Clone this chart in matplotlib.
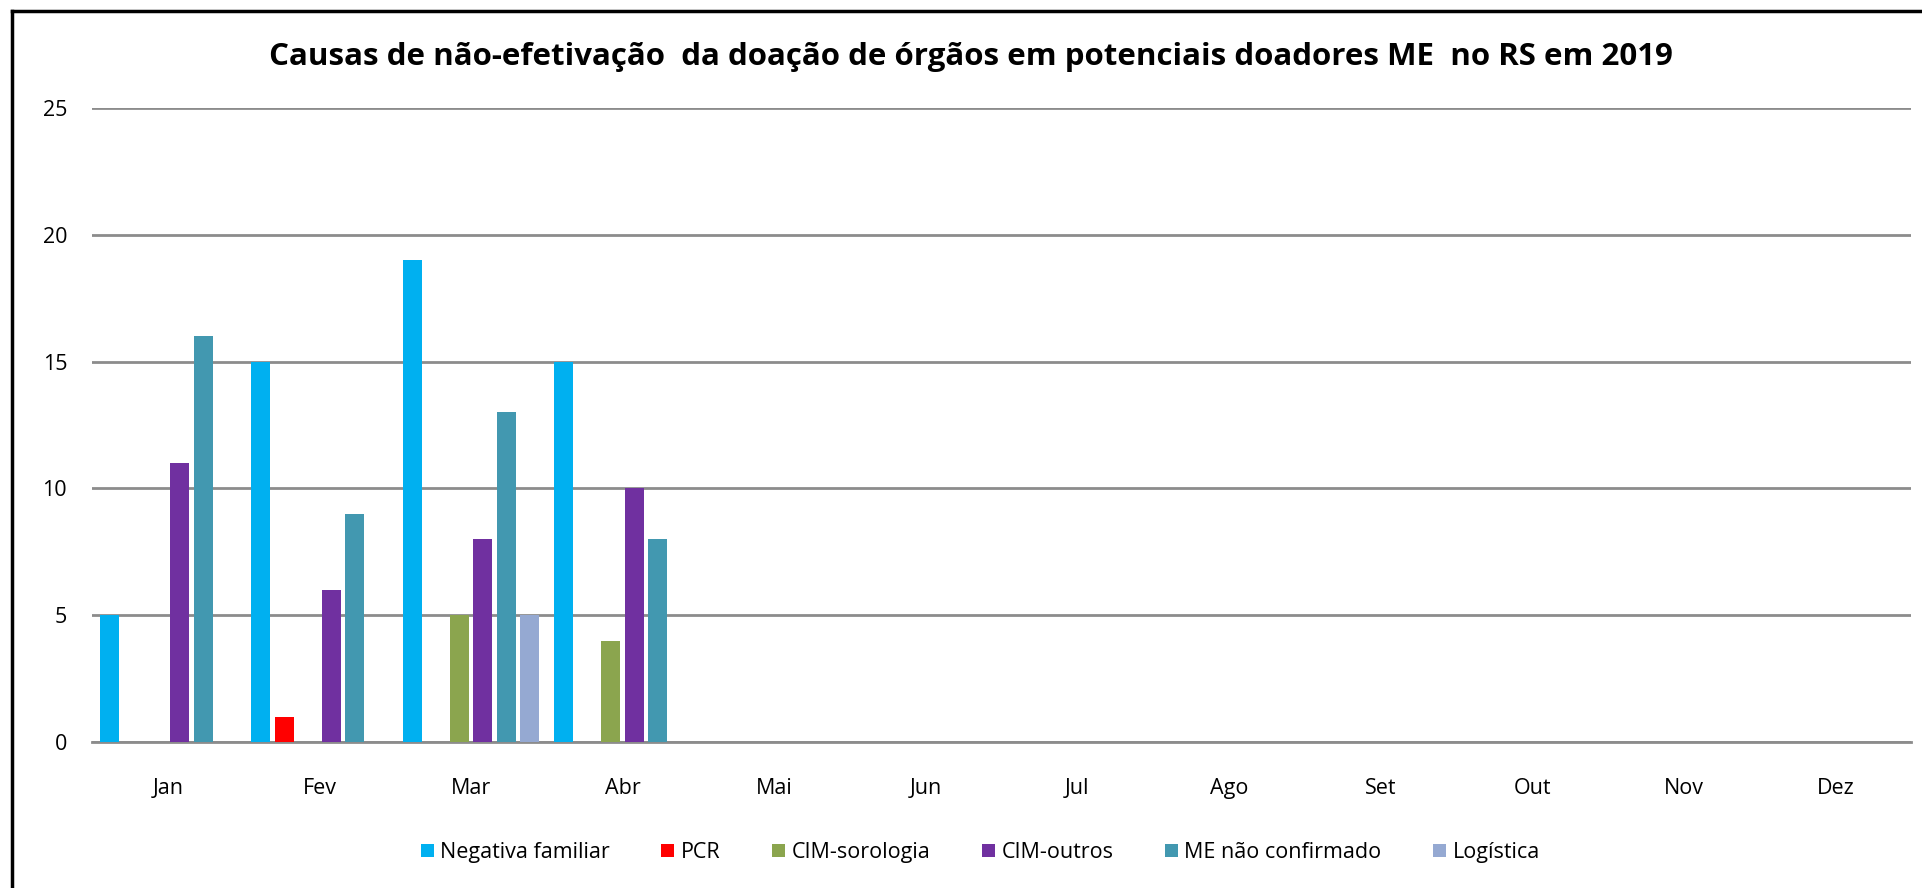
import matplotlib.pyplot as plt
import numpy as np

months = ["Jan", "Fev", "Mar", "Abr", "Mai", "Jun", "Jul", "Ago", "Set", "Out", "Nov", "Dez"]
series_names = ["Negativa familiar", "PCR", "CIM-sorologia", "CIM-outros", "ME não confirmado", "Logística"]
colors = ["#00B0F0", "#FF0000", "#8BA54E", "#7030A0", "#4298B0", "#95A9D2"]

negativa = [5, 15, 19, 15, 0, 0, 0, 0, 0, 0, 0, 0]
pcr = [0, 1, 0, 0, 0, 0, 0, 0, 0, 0, 0, 0]
cim_sorologia = [0, 0, 5, 4, 0, 0, 0, 0, 0, 0, 0, 0]
cim_outros = [11, 6, 8, 10, 0, 0, 0, 0, 0, 0, 0, 0]
me_nao_conf = [16, 9, 13, 8, 0, 0, 0, 0, 0, 0, 0, 0]
logistica = [0, 0, 5, 0, 0, 0, 0, 0, 0, 0, 0, 0]

data = [negativa, pcr, cim_sorologia, cim_outros, me_nao_conf, logistica]

plt.rcParams['font.family'] = ['Open Sans', 'DejaVu Sans']

fig = plt.figure(figsize=(19.22, 8.88), dpi=100)
ax = fig.add_axes([0.0479, 0.1644, 0.9465, 0.714])

x = np.arange(len(months))
pitch = 0.155
width = 0.125
for i, (vals, name, c) in enumerate(zip(data, series_names, colors)):
    offs = (i - 2.5) * pitch
    ax.bar(x + offs, vals, width=width, color=c, label=name, zorder=3)

ax.set_xlim(-0.5, 11.5)
ax.set_ylim(0, 25)
ax.set_yticks([0, 5, 10, 15, 20, 25])
ax.yaxis.grid(True, color="#8c8c8c", linewidth=2, zorder=0)
ax.set_xticks(x)
ax.set_xticklabels(months)
ax.tick_params(axis="both", length=0, labelsize=15.5, colors="black")
ax.tick_params(axis="x", pad=26)
ax.tick_params(axis="y", pad=18)
for s in ["top", "right", "left"]:
    ax.spines[s].set_visible(False)
ax.spines["bottom"].set_color("#8c8c8c")
ax.spines["bottom"].set_linewidth(2)

fig.text(0.505, 0.936, "Causas de não-efetivação  da doação de órgãos em potenciais doadores ME  no RS em 2019",
         ha="center", va="center", fontsize=22.5, fontweight="bold")

leg = fig.legend(loc="center", bbox_to_anchor=(0.51, 0.04), ncol=6, frameon=False,
                 fontsize=15.5, handlelength=0.6, handleheight=0.6, handletextpad=0.3,
                 columnspacing=2.4)

# outer frame (left and top)
fig.add_artist(plt.Line2D([0.0062, 0.0062], [0, 0.988], color="black", linewidth=2.5, transform=fig.transFigure))
fig.add_artist(plt.Line2D([0.0062, 1.0], [0.988, 0.988], color="black", linewidth=2.5, transform=fig.transFigure))

fig.savefig("out.png", dpi=100, facecolor="white")
